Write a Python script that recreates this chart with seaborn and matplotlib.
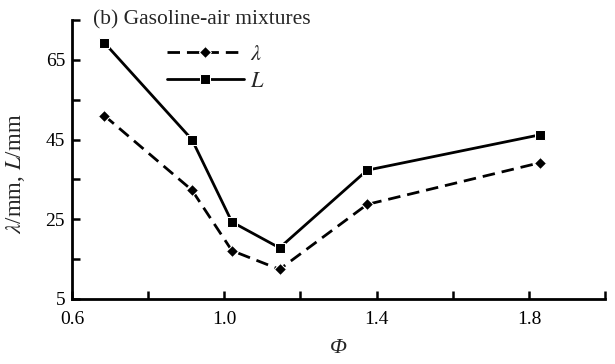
import numpy as np
import pandas as pd
import seaborn as sns
import matplotlib
matplotlib.use("Agg")
import matplotlib.pyplot as plt
from matplotlib.ticker import FixedLocator

phi = [0.685, 0.915, 1.02, 1.145, 1.375, 1.83]
lam_values = [51.0, 32.3, 17.1, 12.4, 28.7, 39.2]
L_values = [69.3, 45.0, 24.3, 17.8, 37.3, 46.2]
series_names = [r"$\lambda$", r"$L$"]
xtick_major = [0.6, 1.0, 1.4, 1.8]
xtick_minor = [0.8, 1.2, 1.6, 2.0]
ytick_major = [5, 25, 45, 65]
ytick_minor = [15, 35, 55, 75]

df = pd.DataFrame({
    "phi": phi * 2,
    "value": lam_values + L_values,
    "series": [series_names[0]] * len(phi) + [series_names[1]] * len(phi),
})

sns.set_style("ticks")
plt.rcParams["font.family"] = ["Liberation Serif", "DejaVu Serif"]
plt.rcParams["mathtext.fontset"] = "stix"

fig = plt.figure(figsize=(6.15, 3.64), dpi=100)
ax = fig.add_axes([0.117, 0.179, 0.867, 0.766])

sns.lineplot(data=df, x="phi", y="value", style="series", hue="series",
             palette=["black", "black"], markers={series_names[0]: "D", series_names[1]: "s"},
             dashes={series_names[0]: (4.5, 2.5), series_names[1]: ""},
             markersize=7.5, linewidth=2.0, ax=ax, legend=True)
for line in ax.lines:
    if line.get_marker() == "D":
        line.set_markersize(6.5)

ax.set_xlim(0.6, 2.0)
ax.set_ylim(5, 75)
ax.xaxis.set_major_locator(FixedLocator(xtick_major))
ax.xaxis.set_minor_locator(FixedLocator(xtick_minor))
ax.yaxis.set_major_locator(FixedLocator(ytick_major))
ax.yaxis.set_minor_locator(FixedLocator(ytick_minor))
ax.set_xticklabels([f"{v:.1f}" for v in xtick_major])
ax.set_yticklabels([str(v) for v in ytick_major])
ax.tick_params(which="both", direction="in", length=6, width=1.8, labelsize=14, colors="black")
ax.tick_params(axis="x", pad=9)
ax.tick_params(axis="y", pad=5)
for side in ["top", "right"]:
    ax.spines[side].set_visible(False)
for side in ["left", "bottom"]:
    ax.spines[side].set_linewidth(2.0)
    ax.spines[side].set_color("black")

ax.set_xlabel("Φ", fontsize=16, fontstyle="italic", labelpad=8)
ax.set_ylabel(r"$\lambda$/mm, $L$/mm", fontsize=16.5, labelpad=4)
ax.yaxis.set_label_coords(-0.085, 0.45)

leg = ax.legend(loc="upper left", bbox_to_anchor=(0.14, 0.985), frameon=False,
                fontsize=16, handlelength=3.5, handletextpad=0.25, labelspacing=0.3)
for h in leg.get_lines():
    h.set_linewidth(2.0)

ax.text(0.04, 1.0, "(b) Gasoline-air mixtures", transform=ax.transAxes,
        fontsize=15.5, va="center", ha="left")

fig.savefig("out.png", dpi=100)
